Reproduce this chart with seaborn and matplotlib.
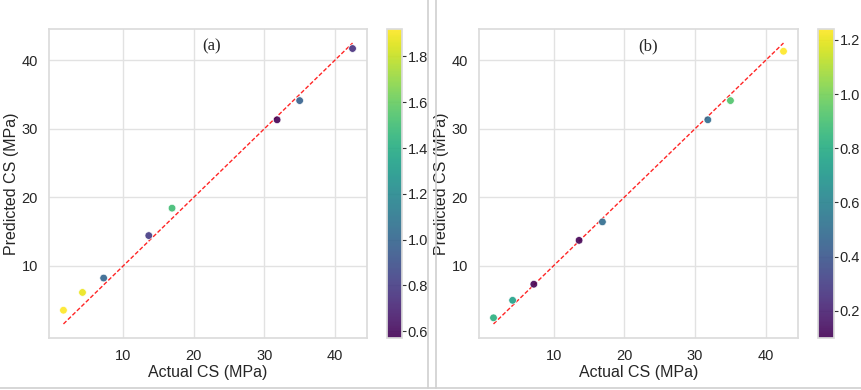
"""Predicted vs. actual compressive strength, two models side by side."""

import matplotlib
matplotlib.use("Agg")
import matplotlib.pyplot as plt
from matplotlib.lines import Line2D
import numpy as np
import pandas as pd
import seaborn as sns

sns.set_theme(style="whitegrid", rc={"grid.color": "#e2e2e2"})
plt.rcParams["font.family"] = ["Liberation Sans", "DejaVu Sans"]

# --------------------------------------------------------------------------
# Data
# --------------------------------------------------------------------------

actual_cs = [1.5, 4.2, 7.2, 13.6, 16.9, 31.8, 35.0, 42.5]

pred_a = [3.5, 6.1, 8.2, 14.4, 18.4, 31.3, 34.1, 41.7]
err_a = [1.92, 1.88, 1.00, 0.80, 1.50, 0.57, 0.98, 0.75]

pred_b = [2.4, 4.95, 7.3, 13.7, 16.4, 31.3, 34.1, 41.3]
err_b = [0.82, 0.75, 0.10, 0.10, 0.50, 0.50, 0.92, 1.24]

panel_labels = ["(a)", "(b)"]
cbar_ticks_a = [0.6, 0.8, 1.0, 1.2, 1.4, 1.6, 1.8]
cbar_ticks_b = [0.2, 0.4, 0.6, 0.8, 1.0, 1.2]

W, H = 861, 390


def frac(x0, y0, x1, y1):
    """Pixel box -> figure fraction [left, bottom, width, height]."""
    return [x0 / W, 1 - y1 / H, (x1 - x0) / W, (y1 - y0) / H]


def draw_panel(fig, ax_box, cb_box, pred, err, label, label_x, ticks):
    ax = fig.add_axes(frac(*ax_box))
    cax = fig.add_axes(frac(*cb_box))
    df = pd.DataFrame({"actual": actual_cs, "pred": pred, "err": err})
    norm = plt.Normalize(min(err), max(err))

    lo, hi = min(actual_cs), max(actual_cs)
    ax.plot([lo, hi], [lo, hi], color="red", linestyle=(0, (3, 1.5)), linewidth=1.0, alpha=0.85)
    sns.scatterplot(data=df, x="actual", y="pred", hue="err", palette="viridis", hue_norm=norm,
                    s=30, alpha=0.9, edgecolor="white", linewidth=0.5, legend=False, ax=ax, zorder=3)

    ax.set_xlabel("Actual CS (MPa)", fontsize=11.5, labelpad=1)
    ax.set_ylabel("Predicted CS (MPa)", fontsize=11.5, labelpad=2)
    ax.set_xticks([10, 20, 30, 40])
    ax.set_yticks([10, 20, 30, 40])
    ax.tick_params(labelsize=10.5, pad=2)
    for spine in ax.spines.values():
        spine.set_color("#dcdcdc")
    ax.text(label_x, 0.943, label, transform=ax.transAxes, ha="center", va="center",
            fontsize=12, family="Liberation Serif")

    sm = plt.cm.ScalarMappable(cmap="viridis", norm=norm)
    cbar = fig.colorbar(sm, cax=cax, alpha=0.9)
    cbar.set_ticks(ticks)
    cbar.ax.tick_params(right=True, length=3, width=0.8, color="#333333", labelsize=10.5, pad=1)
    cbar.outline.set_edgecolor("#dcdcdc")
    return ax


fig = plt.figure(figsize=(W / 100, H / 100), dpi=100)

draw_panel(fig, (49, 29, 367, 338), (387, 29, 402, 338), pred_a, err_a, panel_labels[0], 0.51, cbar_ticks_a)
draw_panel(fig, (479, 29, 798, 338), (818, 29, 834, 338), pred_b, err_b, panel_labels[1], 0.53, cbar_ticks_b)

# thin grey frame lines between the two source images
for xs, ys in [([428 / W, 428 / W], [1 - 388 / H, 1]), ([436 / W, 436 / W], [1 - 388 / H, 1]),
               ([0, 1], [1 - 388 / H, 1 - 388 / H])]:
    fig.add_artist(Line2D(xs, ys, color="#d0d0d0", linewidth=1.2))

fig.savefig("out.png", dpi=100)
plt.close(fig)
